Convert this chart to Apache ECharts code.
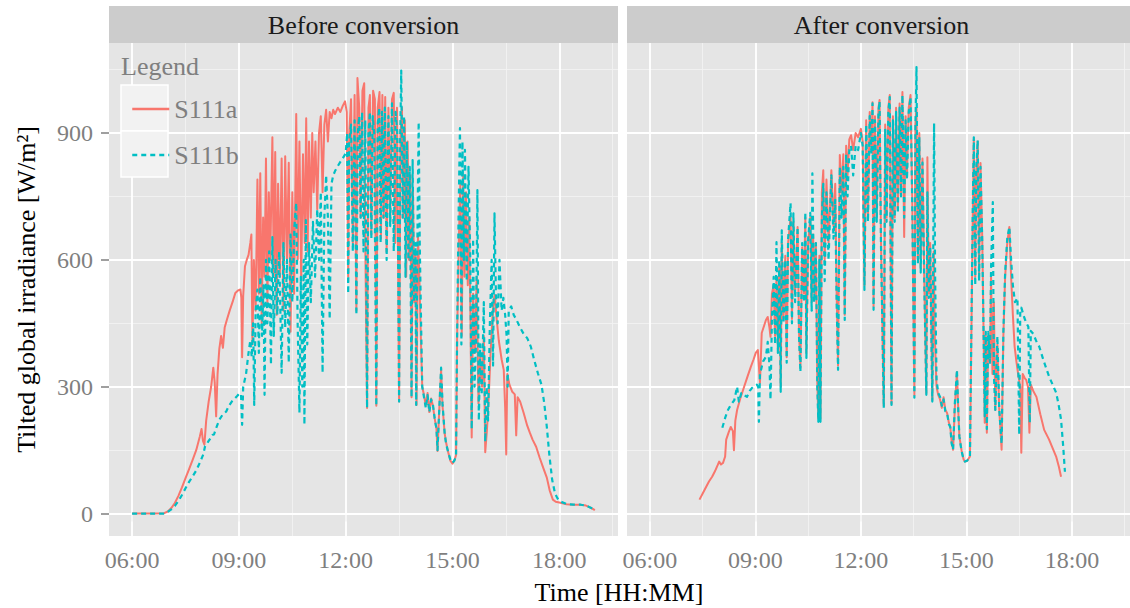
<!DOCTYPE html>
<html>
<head>
<meta charset="utf-8">
<script src="https://cdn.jsdelivr.net/npm/echarts@6/dist/echarts.min.js"></script>
<style>
html,body{margin:0;padding:0;background:#fff;}
#chart{width:1130px;height:608px;}
</style>
</head>
<body>
<div id="chart"></div>
<script>
// ---------- DATA ----------
const panelTitles = ['Before conversion', 'After conversion'];
const seriesNames = ['S111a', 'S111b'];
const xMajor = [6, 9, 12, 15, 18];
const xTickLabels = ['06:00', '09:00', '12:00', '15:00', '18:00'];
const xMinor = [7.5, 10.5, 13.5, 16.5, 19.5];
const yMajor = [0, 300, 600, 900];
const yMinor = [150, 450, 750, 1050];

// [hour, W/m2]
const beforeS111a = [[6.0,0],[6.3,0],[6.6,0],[6.9,1],[7.0,5],[7.1,13],[7.2,25],[7.3,42],[7.4,62],[7.5,84],[7.6,105],[7.7,127],[7.8,150],[7.9,182],[7.95,200],[7.99,172],[8.03,163],[8.08,220],[8.15,265],[8.22,300],[8.28,345],[8.32,310],[8.36,230],[8.4,330],[8.45,390],[8.5,420],[8.55,392],[8.6,440],[8.66,458],[8.74,480],[8.82,500],[8.9,522],[8.98,528],[9.04,530],[9.07,510],[9.09,370],[9.12,515],[9.17,585],[9.22,600],[9.27,612],[9.32,640],[9.35,660],[9.38,400],[9.42,600],[9.47,480],[9.52,790],[9.56,520],[9.6,805],[9.64,450],[9.68,700],[9.72,560],[9.76,840],[9.8,500],[9.84,760],[9.88,600],[9.94,890],[9.98,560],[10.02,855],[10.06,470],[10.1,780],[10.15,560],[10.2,840],[10.25,480],[10.3,845],[10.35,600],[10.4,830],[10.45,430],[10.5,760],[10.55,520],[10.61,945],[10.65,600],[10.7,880],[10.75,550],[10.8,850],[10.85,640],[10.89,935],[10.93,620],[10.97,880],[11.02,700],[11.06,900],[11.1,760],[11.15,880],[11.2,720],[11.25,900],[11.3,940],[11.35,760],[11.4,920],[11.45,955],[11.5,880],[11.55,950],[11.6,935],[11.65,955],[11.7,945],[11.78,960],[11.85,950],[11.92,965],[11.98,975],[12.03,950],[12.07,560],[12.1,900],[12.15,980],[12.2,640],[12.25,990],[12.3,480],[12.33,1030],[12.38,960],[12.42,700],[12.47,1000],[12.52,1018],[12.55,640],[12.6,250],[12.64,960],[12.68,990],[12.72,660],[12.77,1000],[12.82,980],[12.86,255],[12.9,960],[12.95,997],[12.99,650],[13.03,990],[13.07,700],[13.11,985],[13.15,620],[13.2,960],[13.25,690],[13.3,980],[13.35,995],[13.39,640],[13.44,960],[13.5,265],[13.54,900],[13.58,960],[13.62,700],[13.66,930],[13.7,560],[13.74,880],[13.78,600],[13.82,800],[13.85,275],[13.89,760],[13.93,500],[13.96,620],[13.99,257],[14.03,660],[14.07,560],[14.11,420],[14.15,300],[14.2,280],[14.25,255],[14.3,285],[14.35,240],[14.4,272],[14.45,255],[14.5,225],[14.55,200],[14.58,148],[14.62,230],[14.68,340],[14.72,255],[14.78,190],[14.82,168],[14.88,145],[14.94,125],[15.0,118],[15.05,125],[15.1,138],[15.13,420],[15.18,650],[15.22,780],[15.26,420],[15.3,800],[15.34,560],[15.38,760],[15.43,540],[15.47,700],[15.51,420],[15.54,180],[15.58,520],[15.63,380],[15.68,560],[15.73,260],[15.78,380],[15.83,300],[15.88,420],[15.92,145],[15.97,200],[16.02,280],[16.07,380],[16.12,460],[16.16,505],[16.19,517],[16.23,470],[16.3,410],[16.38,365],[16.44,340],[16.48,250],[16.51,140],[16.54,330],[16.6,305],[16.68,288],[16.75,282],[16.79,185],[16.83,275],[16.9,265],[17.0,238],[17.1,208],[17.17,192],[17.25,175],[17.35,158],[17.45,132],[17.55,108],[17.65,85],[17.73,55],[17.82,33],[17.9,28],[18.0,26],[18.2,22],[18.4,21],[18.6,21],[18.75,19],[18.88,14],[19.0,8]];

const beforeS111b = [[6.0,0],[6.3,0],[6.6,0],[6.9,0],[7.0,4],[7.1,10],[7.2,18],[7.3,30],[7.4,44],[7.5,60],[7.6,75],[7.7,88],[7.8,102],[7.9,120],[8.0,140],[8.05,160],[8.1,165],[8.15,172],[8.2,178],[8.25,186],[8.3,187],[8.35,200],[8.45,222],[8.55,235],[8.64,241],[8.72,255],[8.8,265],[8.88,272],[8.95,278],[9.02,285],[9.06,281],[9.09,210],[9.12,300],[9.2,330],[9.27,380],[9.32,410],[9.36,370],[9.4,450],[9.43,257],[9.47,480],[9.52,530],[9.56,380],[9.6,560],[9.65,420],[9.69,540],[9.72,281],[9.76,600],[9.8,450],[9.85,620],[9.9,352],[9.94,654],[9.98,420],[10.03,600],[10.08,470],[10.13,620],[10.2,333],[10.25,640],[10.3,440],[10.35,600],[10.4,357],[10.45,660],[10.5,500],[10.56,680],[10.61,735],[10.65,450],[10.7,239],[10.74,560],[10.78,300],[10.82,600],[10.84,210],[10.88,694],[10.92,400],[10.97,640],[11.02,500],[11.08,690],[11.14,560],[11.2,720],[11.25,600],[11.3,760],[11.35,333],[11.4,700],[11.45,800],[11.5,700],[11.55,460],[11.6,780],[11.65,800],[11.7,810],[11.75,818],[11.8,825],[11.85,832],[11.9,838],[11.95,845],[12.0,852],[12.04,900],[12.07,520],[12.1,880],[12.15,920],[12.2,620],[12.25,930],[12.3,470],[12.34,900],[12.38,940],[12.42,700],[12.46,950],[12.5,620],[12.55,930],[12.6,250],[12.64,900],[12.68,950],[12.72,650],[12.76,940],[12.8,900],[12.86,255],[12.9,920],[12.94,960],[12.98,640],[13.02,950],[13.06,700],[13.1,960],[13.15,600],[13.2,940],[13.25,680],[13.3,970],[13.35,620],[13.4,950],[13.45,900],[13.5,265],[13.53,880],[13.56,1048],[13.6,700],[13.64,940],[13.68,560],[13.72,880],[13.76,600],[13.8,820],[13.85,275],[13.88,836],[13.92,500],[13.96,640],[13.98,257],[14.02,700],[14.05,926],[14.08,640],[14.12,440],[14.15,300],[14.2,275],[14.25,250],[14.3,280],[14.35,240],[14.4,270],[14.45,258],[14.5,225],[14.55,200],[14.58,150],[14.62,230],[14.68,345],[14.72,260],[14.78,190],[14.82,165],[14.88,145],[14.95,125],[15.0,120],[15.05,125],[15.1,135],[15.13,420],[15.17,700],[15.21,912],[15.25,400],[15.28,880],[15.32,600],[15.35,860],[15.4,550],[15.45,820],[15.5,600],[15.54,200],[15.58,650],[15.62,300],[15.66,400],[15.7,765],[15.74,220],[15.78,400],[15.82,280],[15.88,500],[15.92,170],[15.96,300],[16.0,220],[16.05,450],[16.1,600],[16.14,350],[16.18,710],[16.22,520],[16.27,450],[16.32,600],[16.38,480],[16.43,510],[16.48,470],[16.52,420],[16.55,300],[16.58,480],[16.65,490],[16.72,470],[16.8,458],[16.9,440],[17.0,425],[17.1,415],[17.2,395],[17.3,362],[17.4,332],[17.5,305],[17.58,260],[17.65,205],[17.72,140],[17.8,80],[17.88,48],[17.95,36],[18.05,28],[18.2,23],[18.4,21],[18.6,21],[18.75,19],[18.88,14],[19.0,8]];

const afterS111a = [[7.41,33],[7.55,55],[7.68,76],[7.77,87],[7.85,100],[7.93,115],[7.97,123],[8.02,116],[8.08,120],[8.14,135],[8.17,175],[8.24,192],[8.3,205],[8.36,195],[8.39,150],[8.43,220],[8.48,245],[8.58,275],[8.68,300],[8.78,325],[8.87,347],[8.95,365],[9.01,380],[9.07,387],[9.13,309],[9.18,427],[9.25,445],[9.3,458],[9.35,465],[9.4,440],[9.43,418],[9.47,520],[9.52,540],[9.56,420],[9.6,560],[9.64,390],[9.68,590],[9.72,300],[9.75,640],[9.8,460],[9.85,610],[9.89,370],[9.93,640],[10.0,700],[10.04,460],[10.08,690],[10.13,520],[10.2,678],[10.24,430],[10.28,345],[10.33,630],[10.38,520],[10.42,700],[10.45,380],[10.5,640],[10.56,700],[10.6,500],[10.64,660],[10.68,520],[10.72,640],[10.76,310],[10.79,225],[10.82,610],[10.85,225],[10.89,760],[10.93,812],[10.97,600],[11.02,790],[11.08,640],[11.16,812],[11.22,680],[11.27,780],[11.31,520],[11.35,350],[11.4,848],[11.45,760],[11.5,850],[11.54,470],[11.58,870],[11.62,800],[11.67,885],[11.72,895],[11.78,860],[11.85,900],[11.92,890],[12.0,910],[12.05,880],[12.1,540],[12.15,930],[12.2,700],[12.25,950],[12.3,860],[12.33,973],[12.36,490],[12.4,940],[12.45,700],[12.5,960],[12.53,978],[12.57,650],[12.62,400],[12.65,255],[12.69,920],[12.73,700],[12.78,960],[12.82,990],[12.87,260],[12.91,940],[12.96,700],[13.0,960],[13.05,720],[13.1,970],[13.14,760],[13.18,997],[13.23,654],[13.27,940],[13.31,800],[13.36,960],[13.41,990],[13.46,740],[13.52,280],[13.55,920],[13.58,960],[13.62,600],[13.66,900],[13.7,580],[13.75,840],[13.8,560],[13.86,285],[13.89,843],[13.93,520],[13.97,640],[14.03,268],[14.07,620],[14.1,420],[14.15,300],[14.2,280],[14.25,270],[14.3,250],[14.35,275],[14.4,245],[14.45,238],[14.5,215],[14.54,205],[14.58,170],[14.62,151],[14.67,250],[14.73,335],[14.77,240],[14.8,182],[14.86,150],[14.92,128],[14.96,123],[15.02,125],[15.1,135],[15.14,420],[15.18,700],[15.21,885],[15.25,560],[15.28,800],[15.32,880],[15.36,560],[15.4,829],[15.45,650],[15.49,411],[15.52,215],[15.55,420],[15.58,191],[15.62,420],[15.67,357],[15.7,560],[15.74,330],[15.78,500],[15.82,245],[15.88,400],[15.93,250],[16.0,151],[16.05,420],[16.1,560],[16.16,640],[16.22,678],[16.27,560],[16.32,470],[16.37,395],[16.42,360],[16.47,330],[16.53,300],[16.56,144],[16.6,330],[16.66,320],[16.7,316],[16.75,300],[16.79,191],[16.83,305],[16.9,290],[16.99,276],[17.1,235],[17.21,198],[17.35,175],[17.45,155],[17.55,135],[17.63,110],[17.69,87]];

const afterS111b = [[8.06,203],[8.15,229],[8.22,245],[8.3,257],[8.4,268],[8.48,300],[8.53,265],[8.6,285],[8.68,280],[8.76,276],[8.84,290],[8.9,297],[8.97,302],[9.04,305],[9.08,300],[9.1,217],[9.13,330],[9.22,360],[9.3,371],[9.35,406],[9.4,350],[9.43,270],[9.47,460],[9.52,560],[9.56,400],[9.6,642],[9.64,380],[9.68,600],[9.72,288],[9.75,670],[9.8,450],[9.85,600],[9.89,357],[9.93,650],[10.0,734],[10.04,450],[10.08,710],[10.13,500],[10.2,678],[10.24,420],[10.28,335],[10.33,640],[10.38,500],[10.42,713],[10.45,368],[10.5,650],[10.56,711],[10.6,480],[10.62,805],[10.67,500],[10.72,640],[10.76,300],[10.79,217],[10.82,600],[10.85,217],[10.89,700],[10.93,780],[10.97,550],[11.02,760],[11.08,600],[11.16,800],[11.22,650],[11.27,742],[11.31,500],[11.35,340],[11.4,820],[11.45,700],[11.5,820],[11.54,458],[11.58,850],[11.62,750],[11.67,860],[11.72,870],[11.78,800],[11.85,870],[11.92,860],[12.0,900],[12.05,870],[12.1,529],[12.15,920],[12.2,690],[12.25,940],[12.3,850],[12.33,970],[12.36,482],[12.4,930],[12.45,690],[12.5,950],[12.53,975],[12.57,640],[12.62,390],[12.65,250],[12.69,910],[12.73,690],[12.78,950],[12.82,985],[12.87,257],[12.91,930],[12.96,690],[13.0,950],[13.05,710],[13.1,960],[13.14,750],[13.18,990],[13.23,700],[13.27,930],[13.31,790],[13.36,950],[13.41,985],[13.46,730],[13.52,274],[13.55,910],[13.58,1056],[13.62,590],[13.66,890],[13.7,570],[13.75,830],[13.8,550],[13.86,281],[13.89,760],[13.93,510],[13.97,630],[14.03,265],[14.08,923],[14.11,560],[14.15,316],[14.2,285],[14.25,276],[14.3,255],[14.35,270],[14.4,242],[14.45,238],[14.5,212],[14.54,205],[14.58,165],[14.62,151],[14.67,260],[14.73,340],[14.77,238],[14.8,182],[14.86,148],[14.92,128],[14.96,123],[15.02,125],[15.1,135],[15.14,430],[15.18,720],[15.21,890],[15.25,540],[15.28,810],[15.32,883],[15.36,550],[15.4,820],[15.45,640],[15.49,411],[15.52,230],[15.55,430],[15.58,200],[15.62,430],[15.67,357],[15.7,580],[15.75,737],[15.78,330],[15.82,245],[15.88,420],[15.93,250],[16.0,165],[16.05,430],[16.1,570],[16.16,650],[16.22,678],[16.27,600],[16.32,540],[16.38,500],[16.45,510],[16.5,187],[16.53,480],[16.56,487],[16.65,462],[16.72,448],[16.76,442],[16.8,215],[16.83,432],[16.9,425],[17.0,405],[17.07,395],[17.2,360],[17.35,324],[17.45,305],[17.55,286],[17.62,258],[17.69,222],[17.75,160],[17.8,99]];

// ---------- STYLE ----------
const FONT = '"Liberation Serif", "DejaVu Serif", serif';
const RED = '#F8766D', CYAN = '#00BFC4';
const GREY50 = '#7F7F7F';
const X_MIN = 5.35, X_MAX = 19.65, Y_MIN = -53, Y_MAX = 1113;

const chart = echarts.init(document.getElementById('chart'), null, {renderer: 'svg'});

function gridLineSeries(idx) {
  const minorStyle = {color: '#F2F2F2', width: 0.9, type: 'solid'};
  const majorStyle = {color: '#FFFFFF', width: 1.8, type: 'solid'};
  const d = [];
  yMinor.forEach(v => d.push({yAxis: v, lineStyle: minorStyle}));
  xMinor.forEach(v => d.push({xAxis: v, lineStyle: minorStyle}));
  yMajor.forEach(v => d.push({yAxis: v, lineStyle: majorStyle}));
  xMajor.forEach(v => d.push({xAxis: v, lineStyle: majorStyle}));
  return {
    type: 'line', xAxisIndex: idx, yAxisIndex: idx, data: [], silent: true, z: 1,
    markLine: {silent: true, z: 1, symbol: ['none', 'none'], animation: false,
      label: {show: false}, emphasis: {disabled: true}, data: d}
  };
}

function dataSeries(name, data, idx, color, dashed) {
  return {
    name: name, type: 'line', xAxisIndex: idx, yAxisIndex: idx, data: data,
    symbol: 'none', showSymbol: false, z: 2, animation: false,
    lineStyle: {color: color, width: dashed ? 2.2 : 2, type: dashed ? [5, 4] : 'solid', cap: 'butt', join: 'round'},
    itemStyle: {color: color},
    emphasis: {disabled: true}
  };
}

function xAxisCfg(idx) {
  return {
    type: 'value', gridIndex: idx, min: X_MIN, max: X_MAX,
    axisLine: {show: false}, splitLine: {show: false},
    axisTick: {show: true, customValues: xMajor, length: 8, lineStyle: {color: GREY50, width: 1.5}},
    axisLabel: {customValues: xMajor, color: GREY50, fontSize: 24, fontFamily: FONT, margin: 12,
      formatter: v => xTickLabels[xMajor.indexOf(v)] ?? ''}
  };
}

function yAxisCfg(idx) {
  const cfg = {
    type: 'value', gridIndex: idx, min: Y_MIN, max: Y_MAX,
    axisLine: {show: false}, splitLine: {show: false},
    axisTick: {show: idx === 0, customValues: yMajor, length: 8, lineStyle: {color: GREY50, width: 1.5}},
    axisLabel: {show: idx === 0, customValues: yMajor, color: GREY50, fontSize: 24, fontFamily: FONT, margin: 16}
  };
  if (idx === 0) {
    cfg.name = 'Tilted global irradiance [W/m²]';
    cfg.nameLocation = 'middle';
    cfg.nameGap = 70;
    cfg.nameTextStyle = {color: '#000', fontSize: 26, fontFamily: FONT};
  }
  return cfg;
}

const option = {
  animation: false,
  backgroundColor: '#FFFFFF',
  grid: [
    {left: 109, top: 43, width: 509, height: 493, show: true, backgroundColor: '#E5E5E5', borderWidth: 0},
    {left: 627, top: 43, width: 509, height: 493, show: true, backgroundColor: '#E5E5E5', borderWidth: 0}
  ],
  xAxis: [xAxisCfg(0), xAxisCfg(1)],
  yAxis: [yAxisCfg(0), yAxisCfg(1)],
  legend: {
    data: seriesNames, orient: 'vertical', left: 126, top: 89,
    itemWidth: 37, itemHeight: 14, itemGap: 16, selectedMode: false, z: 10,
    itemStyle: {opacity: 0, color: 'rgba(0,0,0,0)', borderWidth: 0},
    lineStyle: {width: 2.5},
    textStyle: {fontSize: 26, color: GREY50, fontFamily: FONT, lineHeight: 30}
  },
  graphic: [
    {type: 'rect', z: 0, shape: {x: 109, y: 6, width: 509, height: 37}, style: {fill: '#CCCCCC'}},
    {type: 'rect', z: 0, shape: {x: 627, y: 6, width: 509, height: 37}, style: {fill: '#CCCCCC'}},
    {type: 'text', z: 1, x: 363.5, y: 25, style: {text: panelTitles[0], fontSize: 26, fontFamily: FONT, fill: '#1A1A1A', textAlign: 'center', textVerticalAlign: 'middle'}},
    {type: 'text', z: 1, x: 881.5, y: 25, style: {text: panelTitles[1], fontSize: 26, fontFamily: FONT, fill: '#1A1A1A', textAlign: 'center', textVerticalAlign: 'middle'}},
    {type: 'text', z: 1, x: 619, y: 592, style: {text: 'Time [HH:MM]', fontSize: 26, fontFamily: FONT, fill: '#000', textAlign: 'center', textVerticalAlign: 'middle'}},
    {type: 'text', z: 6, x: 121, y: 66, style: {text: 'Legend', fontSize: 26, fontFamily: FONT, fill: GREY50, textAlign: 'left', textVerticalAlign: 'middle'}},
    {type: 'rect', z: 6, shape: {x: 121, y: 85, width: 47, height: 46}, style: {fill: '#F2F2F2', stroke: '#FFFFFF', lineWidth: 1.5}},
    {type: 'rect', z: 6, shape: {x: 121, y: 131, width: 47, height: 46}, style: {fill: '#F2F2F2', stroke: '#FFFFFF', lineWidth: 1.5}}
  ],
  series: [
    gridLineSeries(0), gridLineSeries(1),
    dataSeries(seriesNames[0], beforeS111a, 0, RED, false),
    dataSeries(seriesNames[1], beforeS111b, 0, CYAN, true),
    dataSeries(seriesNames[0], afterS111a, 1, RED, false),
    dataSeries(seriesNames[1], afterS111b, 1, CYAN, true)
  ]
};
chart.setOption(option);
</script>
</body>
</html>
